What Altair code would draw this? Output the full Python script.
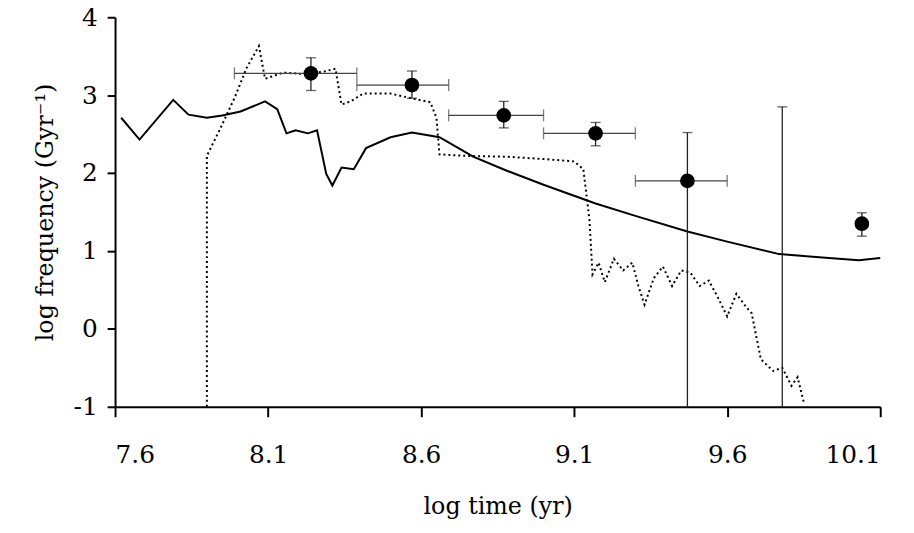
import altair as alt
import pandas as pd

# solid curve
solid_x = [7.62, 7.68, 7.79, 7.84, 7.90, 7.95, 8.01, 8.09, 8.13, 8.16, 8.19, 8.23, 8.26, 8.29, 8.31,
           8.34, 8.38, 8.42, 8.50, 8.57, 8.66, 8.77, 8.88, 9.00, 9.17, 9.30, 9.47, 9.60, 9.77, 9.90, 10.03, 10.10]
solid_y = [2.71, 2.43, 2.94, 2.75, 2.71, 2.74, 2.79, 2.92, 2.82, 2.51, 2.55, 2.51, 2.55, 1.99, 1.84,
           2.07, 2.05, 2.32, 2.46, 2.52, 2.46, 2.21, 2.03, 1.85, 1.61, 1.45, 1.25, 1.12, 0.96, 0.92, 0.88, 0.91]

# dotted curve
dot_x = [7.90, 7.90, 7.94, 7.99, 8.03, 8.07, 8.09, 8.12, 8.15, 8.22, 8.28, 8.32, 8.34, 8.37, 8.41, 8.50,
         8.58, 8.63, 8.65, 8.66, 8.75, 8.88, 9.00, 9.10, 9.13, 9.15, 9.16, 9.18, 9.20, 9.23, 9.26, 9.29,
         9.31, 9.33, 9.36, 9.39, 9.42, 9.45, 9.48, 9.51, 9.54, 9.57, 9.60, 9.63, 9.66, 9.68, 9.71, 9.75,
         9.78, 9.81, 9.83, 9.85]
dot_y = [-1.00, 2.22, 2.54, 2.96, 3.35, 3.63, 3.21, 3.25, 3.29, 3.27, 3.30, 3.34, 2.88, 2.92, 3.02, 3.02,
         2.95, 2.91, 2.71, 2.24, 2.22, 2.21, 2.18, 2.15, 2.05, 1.40, 0.70, 0.85, 0.60, 0.90, 0.75, 0.85,
         0.55, 0.31, 0.65, 0.80, 0.55, 0.75, 0.72, 0.55, 0.62, 0.40, 0.16, 0.45, 0.29, 0.20, -0.39, -0.54,
         -0.50, -0.73, -0.62, -0.94]

# observed points with error bars
obs_x = [8.24, 8.57, 8.87, 9.17, 9.47, 10.04]
obs_y = [3.28, 3.13, 2.74, 2.51, 1.90, 1.35]
obs_xlo = [7.99, 8.39, 8.69, 9.00, 9.30, None]
obs_xhi = [8.39, 8.69, 9.00, 9.30, 9.60, None]
obs_ylo = [3.06, 2.96, 2.58, 2.35, -1.0, 1.19]
obs_yhi = [3.48, 3.31, 2.92, 2.65, 2.52, 1.49]

# upper-limit bar with no point
lim_x = [9.78]
lim_ylo = [-1.0]
lim_yhi = [2.85]

font = "DejaVu Serif"
xs = alt.Scale(domain=[7.6, 10.1], nice=False, zero=False)
ys = alt.Scale(domain=[-1, 4], nice=False, zero=False)

df_s = pd.DataFrame({"x": solid_x, "y": solid_y})
df_d = pd.DataFrame({"x": dot_x, "y": dot_y})
df_o = pd.DataFrame({"x": obs_x, "y": obs_y, "xlo": obs_xlo, "xhi": obs_xhi, "ylo": obs_ylo, "yhi": obs_yhi})
df_h = df_o.dropna()
df_v = pd.concat([df_o[["x", "ylo", "yhi"]],
                  pd.DataFrame({"x": lim_x, "ylo": lim_ylo, "yhi": lim_yhi})])
df_vcap = df_v[df_v["ylo"] > -1]

ax = dict(grid=False, labelFont=font, titleFont=font, labelFontSize=25, titleFontSize=24,
          titleFontWeight="normal", labelColor="black", titleColor="black",
          domainColor="black", tickColor="black", domainWidth=2, tickWidth=2)
X = alt.X("x:Q", scale=xs, title="log time (yr)",
          axis=alt.Axis(values=[7.6, 8.1, 8.6, 9.1, 9.6, 10.1], format=".1f",
                        tickSize=10, labelPadding=26, titlePadding=28, **ax))
Y = alt.Y("y:Q", scale=ys, title="log frequency (Gyr⁻¹)",
          axis=alt.Axis(values=[-1, 0, 1, 2, 3, 4], labelExpr="toString(datum.value)",
                        tickSize=8, labelPadding=10, titlePadding=16, **ax))

solid = alt.Chart(df_s).mark_line(color="black", strokeWidth=2).encode(x=X, y=Y)
dotted = alt.Chart(df_d).mark_line(color="black", strokeWidth=2, strokeDash=[2, 3]).encode(x="x:Q", y="y:Q")

hbar = alt.Chart(df_h).mark_rule(color="#444", strokeWidth=1.3).encode(x="xlo:Q", x2="xhi:Q", y="y:Q")
hcap_l = alt.Chart(df_h).mark_tick(color="#444", orient="vertical", size=12, thickness=1.3).encode(x="xlo:Q", y="y:Q")
hcap_r = alt.Chart(df_h).mark_tick(color="#444", orient="vertical", size=12, thickness=1.3).encode(x="xhi:Q", y="y:Q")
vbar = alt.Chart(df_v).mark_rule(color="#222", strokeWidth=1.3).encode(x="x:Q", y="ylo:Q", y2="yhi:Q")
vcap_t = alt.Chart(df_v).mark_tick(color="#222", orient="horizontal", size=10, thickness=1.3).encode(x="x:Q", y="yhi:Q")
vcap_b = alt.Chart(df_vcap).mark_tick(color="#222", orient="horizontal", size=10, thickness=1.3).encode(x="x:Q", y="ylo:Q")
pts = alt.Chart(df_o).mark_circle(color="black", opacity=1, size=220).encode(x="x:Q", y="y:Q")

chart = alt.layer(solid, dotted, hbar, hcap_l, hcap_r, vbar, vcap_t, vcap_b, pts).properties(
    width=772, height=393, autosize="none",
    padding={"left": 108, "top": 7, "right": 26, "bottom": 125},
).configure_view(stroke=None)

chart.save("out.html", embed_options={"renderer": "svg", "actions": False})
